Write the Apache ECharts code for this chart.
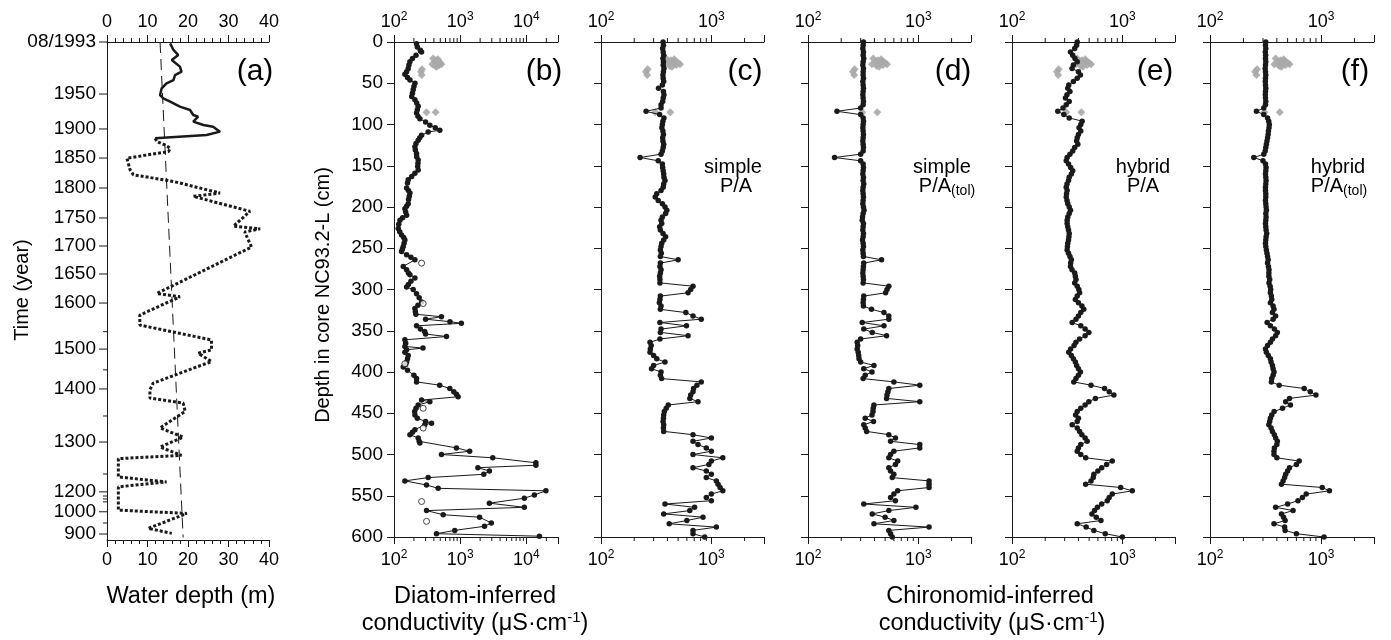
<!DOCTYPE html>
<html>
<head>
<meta charset="utf-8">
<script src="https://cdn.jsdelivr.net/npm/echarts/dist/echarts.min.js"></script>
<style>
html, body { margin: 0; padding: 0; background: #fff; }
#chart { width: 1391px; height: 640px; }
</style>
</head>
<body>
<div id="chart"></div>
<script>
// ---- panel (a): water depth, y is position on the (non linear) time axis ----
var yearPos = [0, 62.7, 104.8, 139.8, 175.9, 212, 245.8, 279.5, 314.5, 349, 370, 395, 418, 450.6, 482, 520.5, 542, 547, 550.6, 554, 566, 579.5, 592.8];
var yearLabels = ['08/1993', '1950', '1900', '1850', '1800', '1750', '1700', '1650', '1600', '', '1500', '', '1400', '', '1300', '', '1200', '', '', '', '1000', '', '900'];

var waterSolidPos = [1.6, 9.6, 15.7, 21.7, 29.7, 35.8, 39.8, 45.8, 49.8, 55.8, 63.9, 67.8, 71.9, 77.9, 81.9, 87.9, 90, 96, 100, 102, 108, 112, 116];
var waterSolidDepth = [15.6, 16.4, 17.6, 16, 18, 18.4, 16.8, 16.4, 14.7, 13.5, 13.1, 13.9, 15.6, 18, 20.5, 21.3, 22.5, 21.3, 23.8, 26.2, 27.9, 24.6, 11.9];

var waterDottedPos = [116, 120, 124, 128, 132, 140, 154, 160, 168, 182,
  186, 204, 222, 225, 229, 247, 303, 307, 329, 341,
  359, 371, 375, 385, 411, 419, 429, 435, 445, 465,
  476, 488, 498, 502, 524, 530, 536, 564, 568, 586, 592];
var waterDottedDepth = [11.9, 12.3, 14.3, 15.6, 15.2, 4.9, 5.7, 6.5, 16.4, 27.9,
  21.3, 35.3, 31.2, 37.8, 34, 35.7, 12.3, 18, 8.1, 8.1,
  25.8, 25.8, 22.5, 25.8, 11.4, 10.6, 10.6, 18.8, 19.3, 13.1,
  18.8, 13.1, 18.4, 2.8, 2.8, 14.7, 2.8, 2.8, 19.7, 10.2, 16];

var trendPos = [0, 597];
var trendDepth = [13.1, 18.8];

// ---- panel (b): diatom-inferred conductivity ----
var diatomDepth = [2, 6, 10, 12, 16, 20, 24, 28, 32, 36,
  39, 43, 46, 50, 54, 58, 62, 66, 70, 74,
  78, 82, 86, 90, 93, 97, 101, 104, 107, 109,
  113, 116, 119, 123, 127, 131, 135, 139, 143, 147,
  151, 155, 159, 163, 167, 171, 177, 180, 183, 187,
  191, 196, 199, 202, 206, 210, 213, 216, 221, 226,
  230, 234, 237, 240, 244, 248, 251, 254, 258, 261,
  264, 272, 276, 280, 282, 286, 290, 294, 297, 300,
  305, 310, 315, 319, 323, 327, 330, 333, 336, 339,
  341, 344, 348, 351, 354, 357, 361, 365, 369, 371,
  373, 376, 380, 384, 388, 391, 394, 398, 404, 408,
  412, 416, 420, 424, 427, 430, 434, 436, 440, 444,
  448, 452, 456, 460, 462, 464, 470, 473, 476, 480,
  484, 486, 492, 496, 500, 504, 510, 513, 516, 520,
  524, 528, 532, 537, 541, 544, 549, 553, 559, 564,
  568, 573, 576, 583, 587, 592, 596, 599];
var diatomValue = [219, 225, 250, 261, 215, 190, 174, 168, 164, 155,
  146, 160, 174, 207, 200, 195, 190, 185, 207, 220,
  232, 225, 219, 230, 246, 300, 348, 420, 492, 328,
  261, 245, 232, 215, 207, 210, 219, 220, 232, 230,
  228, 232, 207, 185, 164, 160, 155, 165, 174, 170,
  166, 164, 155, 146, 150, 155, 135, 123, 118, 116,
  122, 130, 140, 146, 142, 138, 134, 130, 155, 180,
  207, 138, 155, 165, 174, 207, 180, 165, 155, 195,
  219, 240, 261, 230, 207, 210, 214, 520, 300, 700,
  1040, 219, 250, 290, 300, 620, 146, 150, 146, 274,
  155, 146, 164, 160, 155, 150, 138, 160, 200, 219,
  219, 490, 697, 800, 878, 930, 261, 348, 232, 215,
  205, 207, 225, 300, 369, 292, 207, 190, 174, 232,
  240, 246, 878, 1390, 521, 3100, 13900, 13900, 1850, 2760,
  2270, 328, 146, 310, 465, 19700, 13200, 9300, 2760, 9300,
  310, 553, 1960, 2950, 2330, 827, 438, 15700];
var diatomOpenDepth = [268, 317, 390, 444, 468, 557, 581];
var diatomOpenValue = [261, 276, 146, 276, 276, 261, 310];

// grey diamonds, same in panels b-f
var measuredDepth = [20, 21, 22, 23, 24, 25, 26, 27, 27, 28, 29, 30, 33, 36, 40, 85, 85];
var measuredValue = [390, 460, 430, 470, 410, 500, 450, 380, 520, 480, 420, 440, 265, 255, 262, 310, 425];

// ---- panels (c)-(f): chironomid-inferred conductivity, shared sample depths ----
var chiroDepth = [0, 4, 8, 12, 16, 20, 24, 28, 32, 36,
  40, 44, 48, 52, 56, 60, 64, 68, 72, 76,
  80, 84, 88, 92, 96, 100, 104, 108, 112, 116,
  120, 124, 128, 132, 136, 140, 144, 148, 152, 156,
  160, 164, 168, 172, 176, 180, 184, 188, 192, 196,
  200, 204, 208, 212, 216, 220, 224, 228, 232, 236,
  240, 244, 248, 252, 256, 260, 264, 268, 272, 276,
  280, 284, 288, 292, 296, 300, 304, 308, 312, 316,
  320, 324, 328, 332, 336, 340, 344, 348, 352, 356,
  360, 364, 368, 372, 376, 380, 384, 388, 392, 396,
  400, 404, 408, 412, 416, 420, 424, 428, 432, 436,
  440, 444, 448, 452, 456, 460, 464, 468, 472, 476,
  480, 484, 488, 492, 496, 500, 504, 508, 512, 516,
  520, 524, 528, 532, 536, 540, 544, 548, 552, 556,
  560, 564, 568, 572, 576, 580, 584, 588, 592, 596, 600];

var simplePA = [365, 368, 362, 366, 370, 364, 368, 366, 372, 368,
  364, 366, 370, 360, 332, 368, 372, 366, 362, 350,
  350, 256, 340, 372, 364, 360, 356, 364, 368, 362,
  364, 370, 366, 360, 350, 226, 330, 360, 362, 366,
  370, 372, 380, 370, 366, 350, 320, 310, 330, 360,
  380, 395, 385, 360, 350, 355, 340, 345, 365, 385,
  370, 355, 350, 345, 352, 345, 500, 345, 342, 350,
  345, 340, 342, 342, 682, 650, 615, 345, 342, 338,
  350, 345, 587, 682, 810, 342, 595, 350, 345, 615,
  342, 278, 285, 280, 278, 300, 320, 380, 300, 287,
  350, 345, 354, 810, 740, 690, 682, 650, 638, 757,
  407, 390, 375, 370, 368, 365, 370, 368, 370, 682,
  1000, 682, 757, 900, 1000, 682, 1270, 1000, 950, 682,
  900, 1000, 900, 1110, 1150, 1200, 1270, 1000, 900, 1000,
  380, 705, 638, 370, 840, 600, 415, 1110, 682, 682, 870];

var simplePAtol = [318, 316, 314, 318, 316, 320, 316, 314, 318, 316,
  316, 318, 314, 316, 318, 316, 314, 316, 318, 316,
  300, 183, 300, 316, 318, 316, 314, 316, 318, 316,
  314, 316, 318, 316, 300, 174, 300, 316, 318, 316,
  314, 318, 316, 320, 316, 314, 316, 318, 316, 314,
  318, 322, 316, 312, 310, 318, 316, 314, 318, 316,
  312, 316, 318, 314, 316, 318, 464, 320, 318, 316,
  314, 316, 318, 316, 540, 520, 505, 320, 318, 316,
  318, 376, 488, 540, 540, 310, 488, 320, 382, 515,
  300, 279, 282, 279, 285, 288, 290, 300, 396, 320,
  380, 330, 316, 600, 1030, 540, 530, 520, 515, 1030,
  396, 390, 388, 380, 330, 392, 320, 330, 340, 540,
  620, 560, 1030, 1030, 600, 560, 540, 650, 620, 540,
  560, 600, 580, 1250, 1250, 1250, 650, 600, 560, 620,
  320, 950, 540, 382, 500, 600, 396, 1250, 540, 560, 580];

var hybridPA = [390, 385, 370, 339, 355, 372, 390, 360, 350, 400,
  417, 390, 360, 327, 320, 335, 315, 305, 330, 310,
  290, 260, 295, 330, 432, 420, 405, 420, 400, 390,
  385, 395, 370, 355, 335, 316, 310, 325, 340, 355,
  345, 330, 325, 315, 310, 316, 312, 310, 315, 320,
  330, 339, 330, 320, 316, 316, 320, 325, 330, 328,
  325, 320, 318, 316, 325, 335, 345, 340, 339, 350,
  370, 375, 380, 370, 390, 403, 410, 390, 375, 400,
  430, 447, 420, 400, 380, 351, 420, 460, 497, 460,
  410, 380, 365, 340, 327, 345, 360, 375, 385, 400,
  417, 400, 380, 363, 520, 690, 760, 838, 570, 497,
  460, 420, 390, 377, 400, 390, 351, 390, 410, 430,
  460, 480, 420, 400, 390, 420, 465, 810, 720, 650,
  600, 552, 545, 520, 465, 965, 1230, 810, 760, 730,
  650, 595, 560, 530, 580, 640, 390, 470, 552, 700, 1000];

var hybridPAtol = [318, 316, 318, 315, 317, 316, 318, 316, 314, 316,
  318, 316, 315, 316, 318, 316, 315, 316, 318, 316,
  305, 262, 305, 330, 338, 342, 340, 336, 334, 330,
  326, 322, 318, 314, 305, 248, 300, 316, 320, 318,
  316, 318, 320, 318, 316, 316, 318, 318, 316, 318,
  320, 322, 318, 320, 318, 316, 318, 320, 324, 320,
  318, 316, 318, 322, 326, 330, 334, 330, 336, 340,
  339, 339, 345, 340, 348, 352, 350, 357, 360, 350,
  370, 377, 365, 390, 370, 327, 350, 380, 404, 390,
  365, 350, 330, 316, 322, 335, 350, 355, 365, 370,
  377, 370, 360, 357, 420, 705, 800, 900, 520, 480,
  530, 450, 378, 360, 350, 345, 339, 355, 365, 380,
  390, 404, 400, 380, 377, 377, 400, 636, 600, 520,
  500, 480, 470, 455, 440, 1025, 1190, 735, 680, 620,
  500, 390, 560, 440, 460, 475, 377, 470, 475, 600, 1065];

// minor ticks of the log axes
var logMinorB = [200, 300, 400, 500, 600, 700, 800, 900, 2000, 3000, 4000, 5000, 6000, 7000, 8000, 9000, 20000];
var logMinorC = [200, 300, 400, 500, 600, 700, 800, 900, 2000];

var FONT = '"Liberation Sans", Arial, sans-serif';
var INK = '#1a1a1a';

var chart = echarts.init(document.getElementById('chart'));

var grids = [
  { left: 107, top: 42, width: 162, height: 498 },
  { left: 394, top: 42, width: 164, height: 495 },
  { left: 601, top: 42, width: 163, height: 495 },
  { left: 808, top: 42, width: 163, height: 495 },
  { left: 1012, top: 42, width: 163, height: 495 },
  { left: 1210, top: 42, width: 164, height: 495 }
];

function pairs(xs, ys) {
  return xs.map(function (x, i) { return [x, ys[i]]; });
}

function powLabel(v) {
  var e = Math.round(Math.log(v) / Math.LN10);
  if (Math.abs(v - Math.pow(10, e)) > v * 1e-6) return '';
  return '{b|10}{s|' + e + '}';
}

function waterAxis(pos) {
  return {
    type: 'value', gridIndex: 0, position: pos, min: 0, max: 40, interval: 10,
    axisLine: { show: true, onZero: false, lineStyle: { color: INK, width: 1 } },
    axisTick: { show: true, length: 7, lineStyle: { color: INK } },
    minorTick: { show: true, splitNumber: 5, length: 4, lineStyle: { color: INK } },
    axisLabel: { show: true, margin: 11, color: '#000', fontSize: 18, fontFamily: FONT },
    splitLine: { show: false }, minorSplitLine: { show: false }
  };
}

function condAxis(grid, pos, max) {
  return {
    type: 'log', logBase: 10, gridIndex: grid, position: pos, min: 100, max: max,
    axisLine: { show: true, onZero: false, lineStyle: { color: INK, width: 1 } },
    axisTick: { show: true, length: 7, lineStyle: { color: INK } },
    axisLabel: {
      show: true, margin: pos === 'top' ? 9 : 12, formatter: powLabel,
      rich: {
        b: { fontSize: 18, lineHeight: 22, fontFamily: FONT, color: '#000' },
        s: { fontSize: 12, lineHeight: 12, verticalAlign: 'top', fontFamily: FONT, color: '#000' }
      }
    },
    splitLine: { show: false }
  };
}

function depthAxis(grid, labels) {
  return {
    type: 'value', gridIndex: grid, min: 0, max: 600, interval: 50, inverse: true,
    axisLine: { show: true, onZero: false, lineStyle: { color: INK, width: 1 } },
    axisTick: { show: grid > 0, length: 7, lineStyle: { color: INK } },
    axisLabel: { show: labels, margin: 11, color: '#000', fontSize: 19, fontFamily: FONT },
    splitLine: { show: false }
  };
}

var xAxes = [waterAxis('bottom'), waterAxis('top')];
var yAxes = [depthAxis(0, false)];
for (var g = 1; g < 6; g++) {
  var mx = g === 1 ? 30000 : 3000;
  xAxes.push(condAxis(g, 'bottom', mx));
  xAxes.push(condAxis(g, 'top', mx));
  yAxes.push(depthAxis(g, g === 1));
}

// short ticks at 2..9 x 10^n, top and bottom
function minorTicks(g, vals) {
  return {
    type: 'custom', xAxisIndex: 2 * g, yAxisIndex: g, silent: true, z: 1,
    data: vals.map(function (v) { return [v, 0]; }),
    renderItem: function (params, api) {
      var t = api.coord([api.value(0), 0]);
      var b = api.coord([api.value(0), 600]);
      return {
        type: 'group', children: [
          { type: 'line', shape: { x1: t[0], y1: t[1], x2: t[0], y2: t[1] - 4 }, style: { stroke: INK, lineWidth: 1 } },
          { type: 'line', shape: { x1: b[0], y1: b[1], x2: b[0], y2: b[1] + 4 }, style: { stroke: INK, lineWidth: 1 } }
        ]
      };
    }
  };
}

function greyDots(g) {
  return {
    type: 'scatter', xAxisIndex: 2 * g, yAxisIndex: g, symbol: 'diamond', symbolSize: 8,
    itemStyle: { color: '#a9a9a9', opacity: 0.9 }, z: 2,
    data: pairs(measuredValue, measuredDepth)
  };
}

function profile(g, xs, ys) {
  return {
    type: 'line', xAxisIndex: 2 * g, yAxisIndex: g, symbol: 'circle', symbolSize: 5.5,
    itemStyle: { color: INK }, lineStyle: { color: INK, width: 1 }, z: 3,
    data: pairs(xs, ys)
  };
}

var series = [
  {
    type: 'line', xAxisIndex: 0, yAxisIndex: 0, symbol: 'none',
    lineStyle: { color: INK, width: 1, type: [11, 6] },
    data: pairs(trendDepth, trendPos)
  },
  {
    type: 'line', xAxisIndex: 0, yAxisIndex: 0, symbol: 'none',
    lineStyle: { color: INK, width: 2.5 },
    data: pairs(waterSolidDepth, waterSolidPos)
  },
  {
    type: 'line', xAxisIndex: 0, yAxisIndex: 0, symbol: 'none',
    lineStyle: { color: INK, width: 3, type: [3, 2] },
    data: pairs(waterDottedDepth, waterDottedPos)
  },
  {
    // year ticks and labels of panel (a)
    type: 'custom', xAxisIndex: 0, yAxisIndex: 0, silent: true,
    data: yearPos.map(function (p) { return [0, p]; }),
    renderItem: function (params, api) {
      var p = api.coord([0, api.value(1)]);
      var label = yearLabels[params.dataIndex];
      var len = label ? 8 : 4;
      var kids = [{ type: 'line', shape: { x1: p[0] - len, y1: p[1], x2: p[0], y2: p[1] }, style: { stroke: INK, lineWidth: 1 } }];
      if (label) {
        kids.push({
          type: 'text',
          style: {
            text: label, x: p[0] - 11, y: p[1], fill: '#000', font: '19px ' + FONT,
            align: 'right', verticalAlign: 'middle', textAlign: 'right', textVerticalAlign: 'middle'
          }
        });
      }
      return { type: 'group', children: kids };
    }
  },
  greyDots(1),
  minorTicks(1, logMinorB),
  profile(1, diatomValue, diatomDepth),
  {
    type: 'scatter', xAxisIndex: 2, yAxisIndex: 1, symbol: 'circle', symbolSize: 6, z: 4,
    itemStyle: { color: '#fff', borderColor: INK, borderWidth: 1 },
    data: pairs(diatomOpenValue, diatomOpenDepth)
  }
];

var chiro = [simplePA, simplePAtol, hybridPA, hybridPAtol];
chiro.forEach(function (vals, k) {
  series.push(greyDots(k + 2));
  series.push(minorTicks(k + 2, logMinorC));
  series.push(profile(k + 2, vals, chiroDepth));
});

function txt(str, x, y, size, extra) {
  var el = {
    type: 'text', x: x, y: y, silent: true,
    style: {
      text: str, x: 0, y: 0, fill: '#000', font: size + 'px ' + FONT,
      align: 'center', verticalAlign: 'middle', textAlign: 'center', textVerticalAlign: 'middle'
    }
  };
  if (extra) {
    for (var key in extra) el[key] = extra[key];
  }
  return el;
}

function richTxt(str, x, y, size) {
  var el = txt(str, x, y, size);
  el.style.rich = {
    n: { fontSize: size, lineHeight: size + 4, fontFamily: FONT, fill: '#000' },
    s: { fontSize: Math.round(size * 0.62), lineHeight: Math.round(size * 0.62), verticalAlign: 'top', fontFamily: FONT, fill: '#000' },
    t: { fontSize: Math.round(size * 0.7), lineHeight: Math.round(size * 0.7), verticalAlign: 'bottom', fontFamily: FONT, fill: '#000' }
  };
  return el;
}

var graphics = [
  txt('(a)', 255, 72, 30), txt('(b)', 544, 72, 30), txt('(c)', 745, 72, 30),
  txt('(d)', 953, 72, 30), txt('(e)', 1155, 72, 30), txt('(f)', 1355, 72, 30),
  txt('simple', 733, 167, 20), txt('P/A', 736, 186, 20),
  txt('simple', 942, 167, 20), richTxt('{n|P/A}{t|(tol)}', 947, 186, 20),
  txt('hybrid', 1143, 167, 20), txt('P/A', 1143, 186, 20),
  txt('hybrid', 1338, 167, 20), richTxt('{n|P/A}{t|(tol)}', 1339, 186, 20),
  txt('Time (year)', 22, 290, 20, { rotation: Math.PI / 2 }),
  txt('Depth in core NC93.2-L (cm)', 323, 295, 20, { rotation: Math.PI / 2 }),
  txt('Water depth (m)', 191, 597, 23.5),
  txt('Diatom-inferred', 475, 597, 23.5),
  richTxt('{n|conductivity (\u03bcS\u00b7cm}{s|-1}{n|)}', 475, 624, 23.5),
  txt('Chironomid-inferred', 990, 597, 23.5),
  richTxt('{n|conductivity (\u03bcS\u00b7cm}{s|-1}{n|)}', 992, 624, 23.5)
];

chart.setOption({
  animation: false,
  backgroundColor: '#fff',
  grid: grids,
  xAxis: xAxes,
  yAxis: yAxes,
  series: series,
  graphic: graphics
});
</script>
</body>
</html>
